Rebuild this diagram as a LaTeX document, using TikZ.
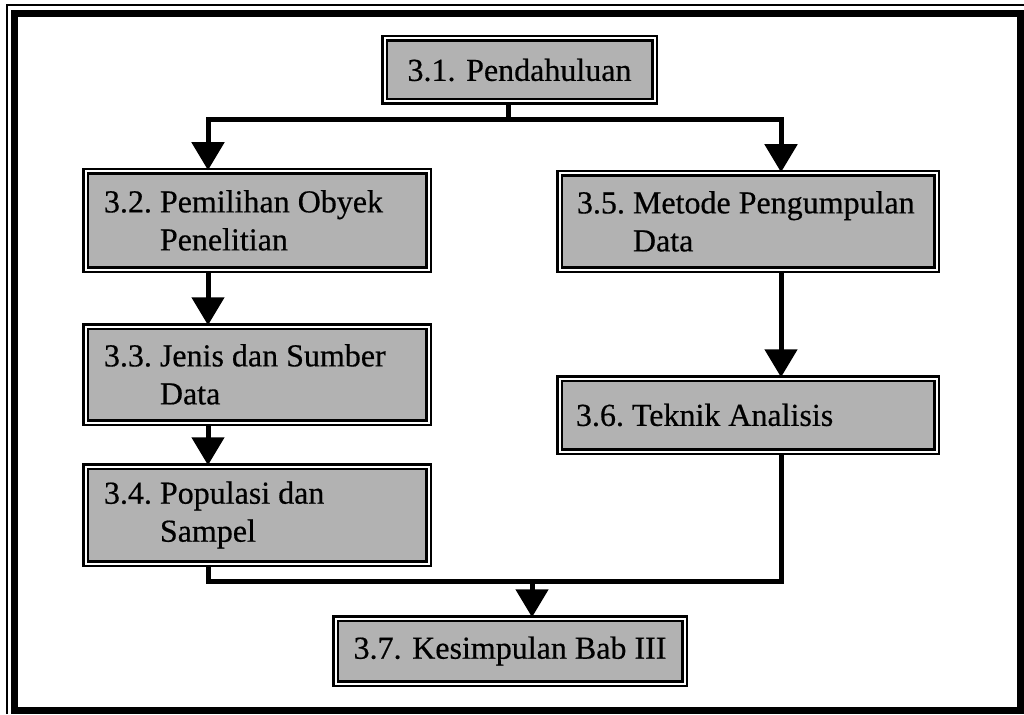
\documentclass[tikz,border=0pt]{standalone}
\usepackage{fontspec}
\setmainfont[FakeBold=0.5]{Liberation Serif}
\usetikzlibrary{arrows.meta}
\definecolor{boxgray}{gray}{0.70}
\begin{document}
\begin{tikzpicture}[x=1pt,y=-1pt,
  stepbox/.style={rectangle, draw=black, fill=boxgray, line width=2.5pt,
    double=white, double distance=2pt, inner sep=0pt,
    font=\fontsize{32}{38}\selectfont, text=black},
  steplabel/.style={anchor=west, align=left, inner sep=0pt,
    font=\fontsize{32}{38}\selectfont, text=black},
  flow/.style={line width=5pt, line join=miter},
  arr/.style={flow, -{Triangle[width=32pt,length=28pt]}}]
\useasboundingbox (0,0) rectangle (1024,714);

% page frame: thin outer rule and heavy inner rule
\draw[line width=2pt] (7,714) -- (7,5) -- (1024,5);
\draw[line width=7pt] (14.5,13.5) rectangle (1020.5,710.5);

% chapter sections
\node[stepbox, minimum width=270pt, minimum height=63pt] (p1) at (519.5,70) {3.1. Pendahuluan};

\node[stepbox, minimum width=343pt, minimum height=98pt] (p2) at (257,220.5) {};
\node[stepbox, minimum width=343pt, minimum height=96pt] (p3) at (257,374.5) {};
\node[stepbox, minimum width=343pt, minimum height=97pt] (p4) at (257,515) {};
\node[stepbox, minimum width=377pt, minimum height=96pt] (p5) at (748,221.5) {};
\node[stepbox, minimum width=377pt, minimum height=73pt] (p6) at (748,415) {};

\node[stepbox, minimum width=349pt, minimum height=65pt] (p7) at (510,651) {3.7. Kesimpulan Bab III};

% section titles with hanging indent
\node[steplabel] (t2) at ([xshift=19.5pt]p2.west) {3.2.\ Pemilihan Obyek\\\phantom{3.2.\ }Penelitian};
\node[steplabel] (t3) at ([xshift=19.5pt]p3.west) {3.3.\ Jenis dan Sumber\\\phantom{3.3.\ }Data};
\node[steplabel] (t4) at ([xshift=19.5pt]p4.west) {3.4.\ Populasi dan\\\phantom{3.4.\ }Sampel};
\node[steplabel] (t5) at ([xshift=18.5pt]p5.west) {3.5.\ Metode Pengumpulan\\\phantom{3.5.\ }Data};
\node[steplabel] (t6) at ([xshift=17.5pt]p6.west) {3.6.\ Teknik Analisis};

% connector guide positions
\coordinate (split) at (508,120);
\coordinate (lcol) at (208,0);
\coordinate (rcol) at (781,0);
\coordinate (mcol) at (532,0);
\coordinate (join) at (0,581);

% connectors
\draw[flow] (p1.south -| split) -- (split);
\draw[arr] (split) -| (p2.north -| lcol);
\draw[arr] (split) -| (p5.north -| rcol);
\draw[arr] (p2.south -| lcol) -- (p3.north -| lcol);
\draw[arr] (p3.south -| lcol) -- (p4.north -| lcol);
\draw[arr] (p5.south -| rcol) -- (p6.north -| rcol);
\draw[flow] (p4.south -| lcol) |- (join -| rcol) -- (p6.south -| rcol);
\draw[arr] (join -| mcol) -- (p7.north -| mcol);
\end{tikzpicture}
\end{document}
